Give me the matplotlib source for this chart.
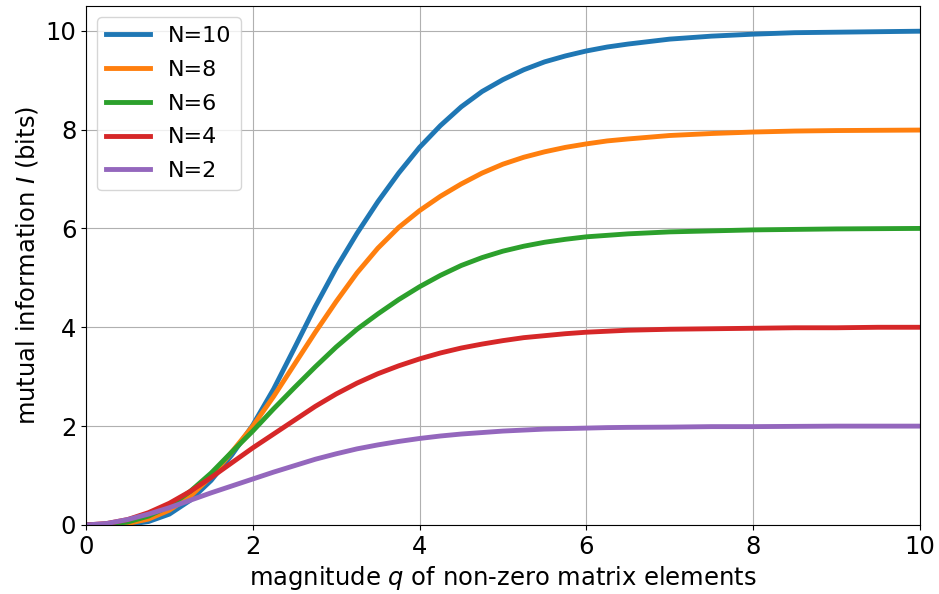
import matplotlib
matplotlib.use('Agg')
import matplotlib.pyplot as plt

# values
q = [0, 0.25, 0.5, 0.75, 1, 1.25, 1.5, 1.75, 2, 2.25, 2.5, 2.75, 3, 3.25,
     3.5, 3.75, 4, 4.25, 4.5, 4.75, 5, 5.25, 5.5, 5.75, 6, 6.25, 6.5,
     7, 7.5, 8, 8.5, 9, 9.5, 10]

info_n10 = [0, 0.0, 0.01, 0.07, 0.22, 0.5, 0.9, 1.42, 2.02, 2.75, 3.58, 4.42,
            5.2, 5.9, 6.54, 7.12, 7.64, 8.08, 8.46, 8.77, 9.01, 9.21, 9.37,
            9.49, 9.59, 9.67, 9.73, 9.83, 9.89, 9.93, 9.96, 9.97, 9.98, 9.99]
info_n8 = [0, 0.0, 0.03, 0.12, 0.3, 0.58, 0.98, 1.48, 2.0, 2.6, 3.25, 3.9,
           4.52, 5.1, 5.6, 6.02, 6.36, 6.65, 6.9, 7.12, 7.3, 7.44, 7.55,
           7.64, 7.71, 7.77, 7.81, 7.88, 7.92, 7.95, 7.97, 7.98, 7.985, 7.99]
info_n6 = [0, 0.01, 0.06, 0.18, 0.38, 0.68, 1.05, 1.48, 1.9, 2.35, 2.78, 3.2,
           3.6, 3.96, 4.27, 4.56, 4.82, 5.05, 5.25, 5.41, 5.54, 5.64, 5.72,
           5.78, 5.83, 5.86, 5.89, 5.93, 5.95, 5.97, 5.98, 5.99, 5.995, 6.0]
info_n4 = [0, 0.03, 0.11, 0.25, 0.44, 0.68, 0.96, 1.26, 1.56, 1.84, 2.12, 2.4,
           2.65, 2.87, 3.06, 3.22, 3.36, 3.48, 3.58, 3.66, 3.73, 3.79, 3.83,
           3.87, 3.9, 3.92, 3.94, 3.96, 3.97, 3.98, 3.99, 3.99, 4.0, 4.0]
info_n2 = [0, 0.03, 0.11, 0.22, 0.35, 0.5, 0.65, 0.79, 0.93, 1.07, 1.2, 1.33,
           1.44, 1.54, 1.62, 1.69, 1.75, 1.8, 1.84, 1.87, 1.9, 1.92, 1.94,
           1.95, 1.96, 1.97, 1.975, 1.98, 1.99, 1.99, 1.995, 2.0, 2.0, 2.0]

labels = ['N=10', 'N=8', 'N=6', 'N=4', 'N=2']
series = [info_n10, info_n8, info_n6, info_n4, info_n2]

plt.rcParams['font.size'] = 17.5

fig = plt.figure(figsize=(9.39, 5.94), dpi=100)
ax = fig.add_axes([0.0916, 0.1162, 0.888, 0.8737])

for lab, ys in zip(labels, series):
    ax.plot(q, ys, lw=3.5, label=lab, solid_joinstyle='round')

ax.set_xlim(0, 10)
ax.set_ylim(0, 10.5)
ax.set_xticks([0, 2, 4, 6, 8, 10])
ax.set_yticks([0, 2, 4, 6, 8, 10])
ax.grid(True)
ax.set_xlabel('magnitude $q$ of non-zero matrix elements')
ax.set_ylabel('mutual information $I$ (bits)')
ax.legend(loc='upper left', fontsize=16, labelspacing=0.62)

fig.savefig('out.png', dpi=100)
